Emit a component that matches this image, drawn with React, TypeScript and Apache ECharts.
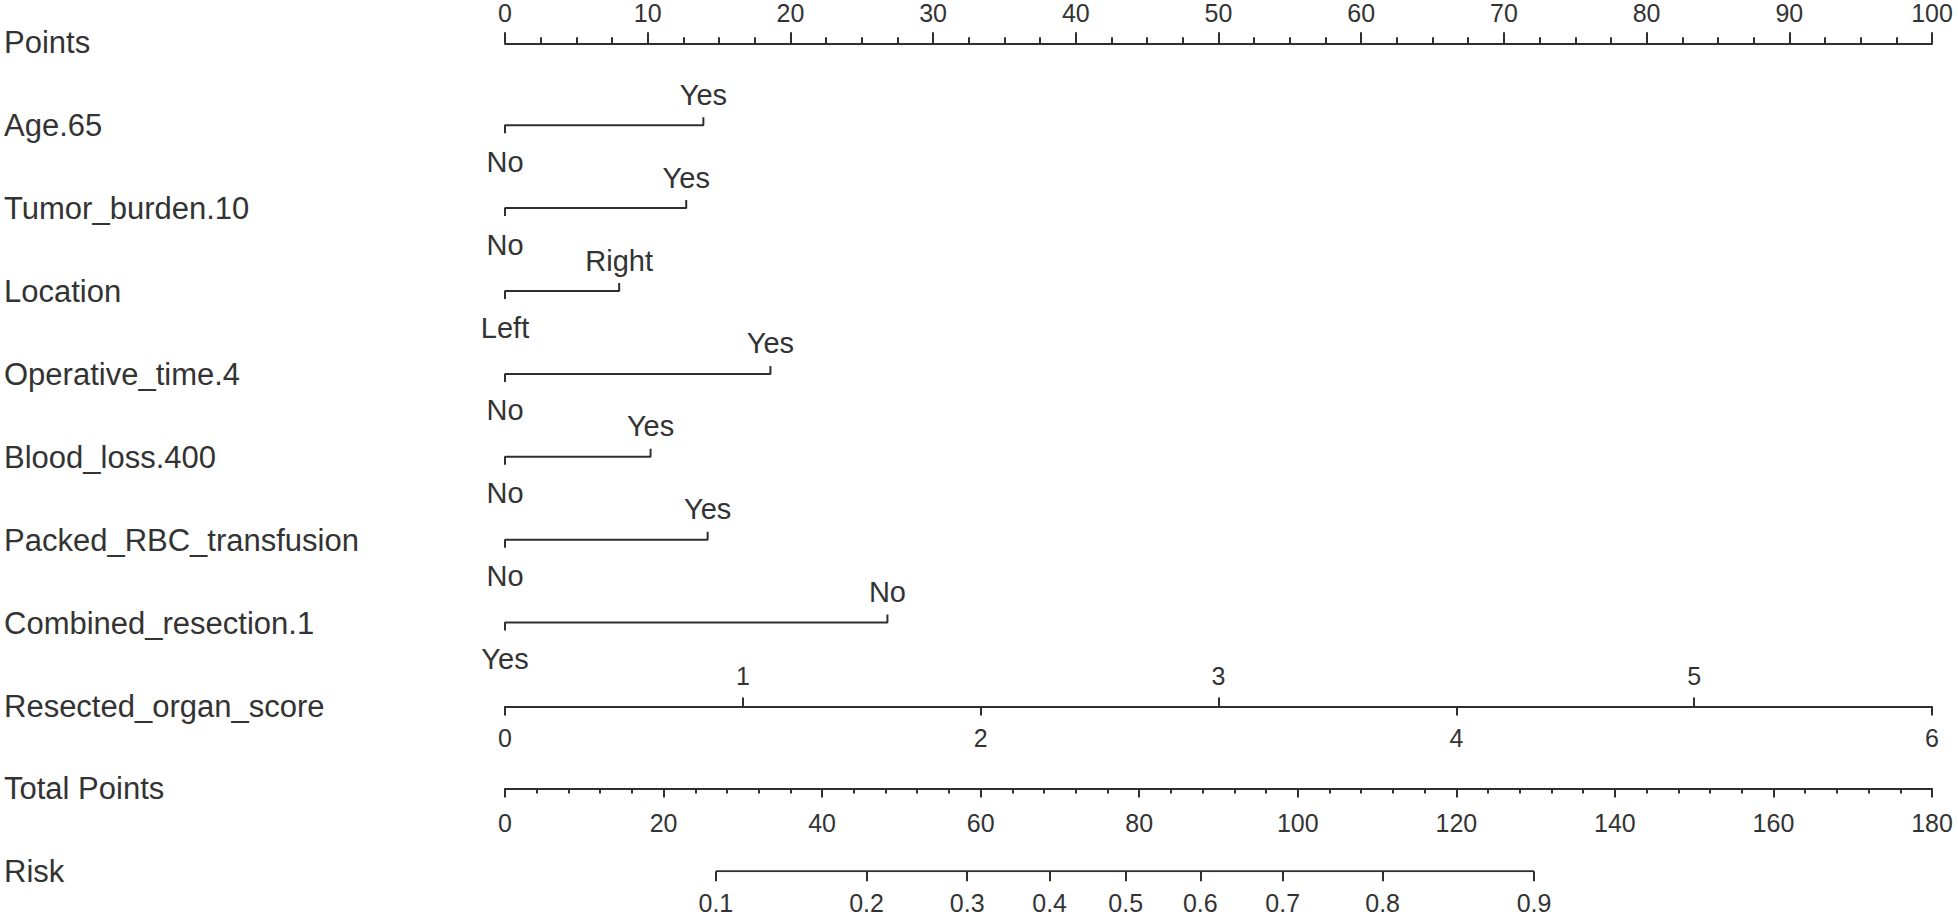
import React, { useEffect, useRef } from "react";
import * as echarts from "echarts";

// ---------------- data ----------------
const rowLabels = [
  "Points",
  "Age.65",
  "Tumor_burden.10",
  "Location",
  "Operative_time.4",
  "Blood_loss.400",
  "Packed_RBC_transfusion",
  "Combined_resection.1",
  "Resected_organ_score",
  "Total Points",
  "Risk",
];

const pointsMin = 0;
const pointsMax = 100;
const pointsStep = 10;
const pointsMinorSplit = 4;

// categorical predictors: low level at 0 points, high level at the read value
const catLowLabels = ["No", "No", "Left", "No", "No", "No", "Yes"];
const catHighLabels = ["Yes", "Yes", "Right", "Yes", "Yes", "Yes", "No"];
const catHighPoints = [13.9, 12.7, 8.0, 18.6, 10.2, 14.2, 26.8];

// Resected_organ_score spans 0..6 over the full 0..100 points
const organMin = 0;
const organMax = 6;
const organLowerTicks = [0, 2, 4, 6];
const organUpperTicks = [1, 3, 5];

const totalMin = 0;
const totalMax = 180;
const totalStep = 20;
const totalMinorSplit = 5;

const riskLabels = ["0.1", "0.2", "0.3", "0.4", "0.5", "0.6", "0.7", "0.8", "0.9"];
const riskTotalPoints = [26.6, 45.6, 58.3, 68.7, 78.3, 87.7, 98.1, 110.7, 129.8];

// ---------------- layout ----------------
const W = 1958;
const H = 916;
const AXIS_LEFT = 505;
const AXIS_WIDTH = 1427;
const ROW0 = 42.3;
const ROW_GAP = 82.9;
const rowY = (i: number) => ROW0 + i * ROW_GAP;

const LINE = "#2f2f2f";
const TEXT = "#333333";
const FONT = "'Liberation Sans', Arial, Helvetica, sans-serif";
const TICK_FONT = 25;
const LEVEL_FONT = 29;
const ROW_FONT = 31;
const LW = 2;

export default function App() {
  const ref = useRef<HTMLDivElement>(null);

  useEffect(() => {
    if (!ref.current) return;
    const chart = echarts.init(ref.current, null, { renderer: "svg" });

    const grids: any[] = [];
    const xAxes: any[] = [];
    const yAxes: any[] = [];
    const series: any[] = [];

    const lineStyle = { color: LINE, width: LW };
    const axisLabel = (extra: any) => ({
      color: TEXT,
      fontSize: TICK_FONT,
      fontFamily: FONT,
      ...extra,
    });
    const addGrid = (top: number, height: number, yMin: number, yMax: number) => {
      grids.push({ left: AXIS_LEFT, width: AXIS_WIDTH, top, height, containLabel: false });
      const gi = grids.length - 1;
      yAxes.push({ gridIndex: gi, type: "value", min: yMin, max: yMax, show: false });
      return gi;
    };

    // ---- Points axis (top) ----
    {
      const g = addGrid(rowY(0), 1, 0, 1);
      xAxes.push({
        gridIndex: g,
        type: "value",
        position: "top",
        min: pointsMin,
        max: pointsMax,
        interval: pointsStep,
        splitLine: { show: false },
        axisLine: { show: true, lineStyle },
        axisTick: { show: true, length: 11, lineStyle },
        minorTick: { show: true, splitNumber: pointsMinorSplit, length: 6, lineStyle },
        axisLabel: axisLabel({ margin: 20.5, lineHeight: 18 }),
      });
    }

    // ---- categorical predictors ----
    catHighPoints.forEach((hp, k) => {
      const i = k + 1;
      const g = addGrid(rowY(i) - 8, 16, -1, 1);
      xAxes.push({
        gridIndex: g,
        type: "value",
        min: pointsMin,
        max: pointsMax,
        show: false,
      });
      const xi = xAxes.length - 1;
      series.push({
        type: "line",
        xAxisIndex: xi,
        yAxisIndex: g,
        symbol: "circle",
        symbolSize: 1,
        itemStyle: { color: "rgba(0,0,0,0)" },
        lineStyle,
        silent: true,
        emphasis: { disabled: true },
        label: { show: false, color: TEXT, fontSize: LEVEL_FONT, fontFamily: FONT },
        data: [
          {
            value: [pointsMin, -1],
            label: { show: true, position: "bottom", distance: 13.5, formatter: catLowLabels[k] },
          },
          [pointsMin, 0],
          [hp, 0],
          {
            value: [hp, 1],
            label: { show: true, position: "top", distance: 7.5, formatter: catHighLabels[k] },
          },
        ],
      });
    });

    // ---- Resected_organ_score ----
    {
      const i = 8;
      const g = addGrid(rowY(i), 1, 0, 1);
      xAxes.push({
        gridIndex: g,
        type: "value",
        position: "top",
        min: organMin,
        max: organMax,
        splitLine: { show: false },
        axisLine: { show: true, lineStyle },
        axisTick: { show: true, length: 9, lineStyle, customValues: organUpperTicks },
        axisLabel: axisLabel({ margin: 17.5, customValues: organUpperTicks }),
      });
      xAxes.push({
        gridIndex: g,
        type: "value",
        position: "bottom",
        min: organMin,
        max: organMax,
        splitLine: { show: false },
        axisLine: { show: false },
        axisTick: { show: true, length: 9, lineStyle, customValues: organLowerTicks },
        axisLabel: axisLabel({ margin: 19, customValues: organLowerTicks }),
      });
    }

    // ---- Total Points ----
    {
      const i = 9;
      const g = addGrid(rowY(i) - 1, 1, 0, 1);
      xAxes.push({
        gridIndex: g,
        type: "value",
        position: "bottom",
        min: totalMin,
        max: totalMax,
        interval: totalStep,
        splitLine: { show: false },
        axisLine: { show: true, lineStyle },
        axisTick: { show: true, length: 9, lineStyle },
        minorTick: { show: true, splitNumber: totalMinorSplit, length: 5, lineStyle },
        axisLabel: axisLabel({ margin: 22.5 }),
      });
    }

    // ---- Risk ----
    {
      const i = 10;
      const g = addGrid(rowY(i) - 1, 1, 0, 1);
      xAxes.push({
        gridIndex: g,
        type: "value",
        position: "bottom",
        min: totalMin,
        max: totalMax,
        splitLine: { show: false },
        axisLine: { show: false },
        axisTick: { show: true, length: 10, lineStyle, customValues: riskTotalPoints },
        axisLabel: axisLabel({
          margin: 19,
          customValues: riskTotalPoints,
          formatter: (v: number) => {
            let best = 0;
            riskTotalPoints.forEach((p, j) => {
              if (Math.abs(p - v) < Math.abs(riskTotalPoints[best] - v)) best = j;
            });
            return riskLabels[best];
          },
        }),
      });
      const xi = xAxes.length - 1;
      series.push({
        type: "line",
        xAxisIndex: xi,
        yAxisIndex: g,
        symbol: "none",
        silent: true,
        lineStyle,
        data: [
          [riskTotalPoints[0], 0],
          [riskTotalPoints[riskTotalPoints.length - 1], 0],
        ],
      });
    }

    const graphic = rowLabels.map((t, i) => ({
      type: "text",
      x: 4,
      y: rowY(i) + 0.5,
      silent: true,
      style: {
        text: t,
        fill: TEXT,
        fontSize: ROW_FONT,
        fontFamily: FONT,
        textAlign: "left",
        textVerticalAlign: "middle",
        verticalAlign: "middle",
      },
    }));

    chart.setOption({
      animation: false,
      backgroundColor: "#ffffff",
      grid: grids,
      xAxis: xAxes,
      yAxis: yAxes,
      series,
      graphic,
    });

    return () => {
      chart.dispose();
    };
  }, []);

  return (
    <div
      ref={ref}
      style={{ position: "fixed", left: 0, top: 0, width: W, height: H, background: "#fff" }}
    />
  );
}
